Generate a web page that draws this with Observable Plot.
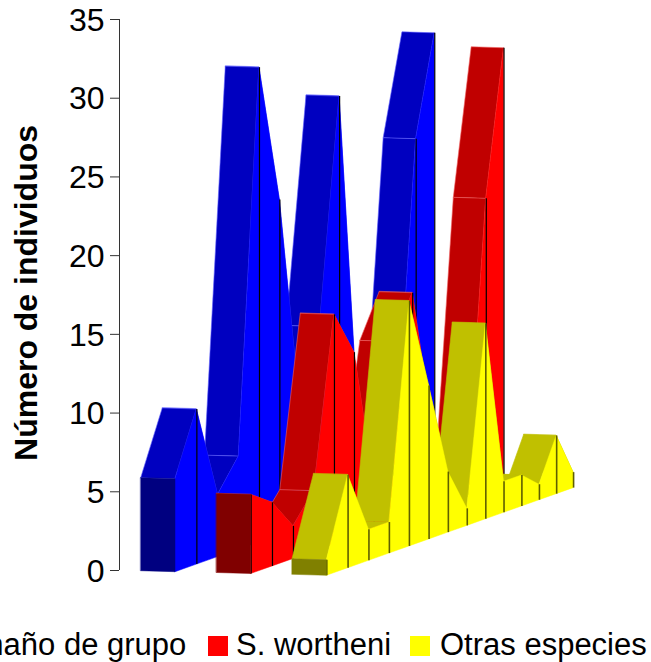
<!DOCTYPE html>
<html>
<head>
<meta charset="utf-8">
<script src="https://cdn.jsdelivr.net/npm/d3@7"></script>
<script src="https://cdn.jsdelivr.net/npm/@observablehq/plot@0.6"></script>
<style>
html,body{margin:0;padding:0;background:#fff;width:651px;height:662px;overflow:hidden;position:relative;font-family:"Liberation Sans",Arial,sans-serif;}
svg{display:block;}
#legend{position:absolute;left:0;top:0;width:651px;height:662px;overflow:hidden;font-size:31px;line-height:36px;color:#000;white-space:nowrap;pointer-events:none;}
#legend .sw{position:absolute;width:20px;height:20px;top:636px;}
#legend .tx{position:absolute;top:627px;}
</style>
</head>
<body>
<div id="chart"></div>
<div id="legend"></div>
<script>
const categorias = [1,2,3,4,5,6,7,8,9,10,11,12,13,14];
const tamanoGrupo = [6,10,4,6,30.6,21.6,7.8,12.5,26.9,4.9,3,3.7,22.4,28.8];
const wortheni = [5.1,4.1,2.1,3.9,14.8,11.9,2.8,11.7,14.4,5.8,2,1.4,18.8,28.1];
const otras = [1,6,2,2,15.8,9.9,3.9,1.1,12.6,2,2,1,3.75,1];
const yTicks = [0,5,10,15,20,25,30,35];
const yTitle = "Número de individuos";
const seriesNames = ["Tamaño de grupo","S. wortheni","Otras especies"];
const seriesValues = [tamanoGrupo, wortheni, otras];
const palette = [
  {front:"#000080", top:"#0000C0", side:"#0000FF", edge:"#6060ff", drop:"#000", dropW:1.2},
  {front:"#800000", top:"#C00000", side:"#FF0000", edge:"#f06060", drop:"#000", dropW:1.2},
  {front:"#808000", top:"#C0C000", side:"#FFFF00", edge:"#C0C000", drop:"#5f5f00", dropW:1.6}
];
// legend placement
const legendSwatch = [-85, 208, 410];
const legendText = [-55, 236, 440];
// drop lines the reference does not show on the blue wall
const sinLinea = [[0,3],[],[]];

// oblique view with a slight perspective
const unit = 15.73, heightRatio = 15.5 / 15.73;
const x0 = s => 175 + 75.65 * s;
const xRight = (s,c) => x0(s) + 21.5 * c / (1 + (0.006 + 0.0021 * s) * c);
const xLeft = (s,c) => xRight(s,c) - (34.3 - 0.15 * c);
const floorR = (s,c) => (0.355 * (xRight(s,c) - x0(s)) - 1.7 - 1.8 * s) / unit;
const floorL = (s,c) => floorR(s,c) + 1 / unit;
const tilt = 1 / unit;

const marks = [];
seriesValues.forEach((vals, s) => {
  const p = palette[s];
  const top = c => floorR(s,c) + vals[c] * heightRatio;
  // top surface, from the back to the front
  const strip = [];
  for (let c = categorias.length - 2; c >= 0; c--) {
    for (const d of [c, c + 1]) {
      strip.push({seg:c, x1:xLeft(s,d), y1:top(d)+tilt, x2:xRight(s,d), y2:top(d)});
    }
  }
  marks.push(Plot.area(strip, {x1:"x1", y1:"y1", x2:"x2", y2:"y2", z:"seg", fill:p.top, stroke:p.edge, strokeWidth:0.6}));
  // side wall
  const wall = categorias.map((_, c) => ({x:xRight(s,c), y1:floorR(s,c), y2:top(c)}));
  marks.push(Plot.areaY(wall, {x:"x", y1:"y1", y2:"y2", fill:p.side, stroke:p.side, strokeWidth:0.5}));
  marks.push(Plot.ruleX(wall.filter((_, c) => !sinLinea[s].includes(c)), {x:"x", y1:"y1", y2:"y2", stroke:p.drop, strokeWidth:p.dropW}));
  // front face
  const front = [
    {x:xLeft(s,0), y1:floorL(s,0), y2:top(0)+tilt},
    {x:xRight(s,0), y1:floorR(s,0), y2:top(0)}
  ];
  marks.push(Plot.areaY(front, {x:"x", y1:"y1", y2:"y2", fill:p.front, stroke:p.front, strokeWidth:0.5}));
});

const plot = Plot.plot({
  width:651, height:620,
  marginLeft:0, marginRight:0, marginTop:0, marginBottom:0,
  style:{fontFamily:"'Liberation Sans',Arial,sans-serif", background:"#fff", overflow:"visible"},
  x:{type:"linear", domain:[0,651], range:[0,651], axis:null},
  y:{type:"linear", domain:[0,35], range:[570,19], axis:null},
  marks:[
    Plot.ruleX([119], {y1:0, y2:35, stroke:"#333", strokeWidth:1}),
    Plot.ruleY(yTicks, {y:d=>d, x1:110, x2:119, stroke:"#333", strokeWidth:1}),
    Plot.text(yTicks, {y:d=>d, x:104, dy:1, text:d=>String(d), textAnchor:"end", fontSize:32, fill:"#000"}),
    Plot.text([yTitle], {x:26, y:17.63, text:d=>d, rotate:-90, fontSize:32, fontWeight:"bold", fill:"#000"}),
    ...marks
  ]
});
document.getElementById("chart").appendChild(plot);

const legend = document.getElementById("legend");
seriesNames.forEach((name, s) => {
  const sw = document.createElement("span");
  sw.className = "sw";
  sw.style.background = palette[s].side;
  sw.style.left = legendSwatch[s] + "px";
  const t = document.createElement("span");
  t.className = "tx";
  t.style.left = legendText[s] + "px";
  t.textContent = name;
  legend.append(sw, t);
});
</script>
</body>
</html>
